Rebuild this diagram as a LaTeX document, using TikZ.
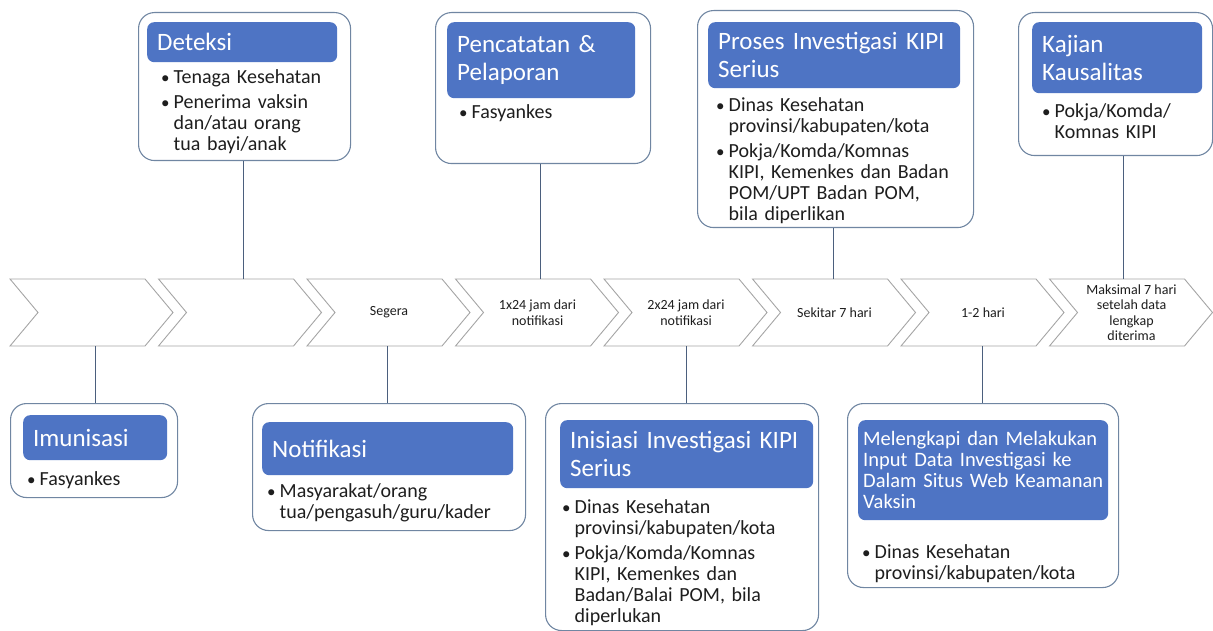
\documentclass[tikz,border=0pt]{standalone}
\usepackage{fontspec}
\setmainfont{Carlito}
\definecolor{hdrblue}{RGB}{78,116,196}
\definecolor{boxline}{RGB}{112,134,162}
\definecolor{connline}{RGB}{75,95,125}
\definecolor{chevline}{RGB}{165,165,165}
\definecolor{bodytext}{RGB}{30,30,30}

% bullet paragraph with hanging indent
\newcommand{\bitem}[1]{\par\noindent\hangindent=12.5pt\hangafter=1\strut\makebox[12.5pt][l]{\scalebox{0.85}{\textbullet}}#1\par}
\newcommand{\bgap}{\vspace{4.5pt}}
% one chevron of the timeline, #1 = left x
\newcommand{\chevshape}[1]{\path[chevbox] (#1,279) -- ++(135,0) -- ++(28,33.5) -- ++(-28,33.5) -- ++(-135,0) -- ++(28,-33.5) -- cycle;}

\begin{document}
\begin{tikzpicture}[x=1pt,y=-1pt,
  obox/.style={draw=boxline,line width=1.1pt,rounded corners=16pt,fill=white,anchor=north west,inner sep=0pt},
  hdr/.style={fill=hdrblue,rounded corners=7pt,text=white,align=left,anchor=north west,inner xsep=10pt,inner ysep=2pt,font=\fontsize{25}{28}\selectfont},
  body/.style={anchor=north west,inner sep=0pt,text=bodytext,font=\fontsize{20}{21}\selectfont},
  chevbox/.style={draw=chevline,line width=0.9pt,fill=white,line join=miter},
  chevtext/.style={align=center,text=bodytext,font=\fontsize{14}{15.5}\selectfont,inner sep=0pt},
  conn/.style={draw=connline,line width=0.9pt}
]
\useasboundingbox (0,0) rectangle (1213,631);

% timeline chevrons
\chevshape{10}
\chevshape{158.5}
\chevshape{307}
\chevshape{455.5}
\chevshape{604}
\chevshape{752.5}
\chevshape{901}
\chevshape{1049.5}

\node[chevtext] (t3) at (389,312.5) {Segera};
\node[chevtext] (t4) at (537.5,312.5) {1x24 jam dari\\notifikasi};
\node[chevtext] (t5) at (686,312.5) {2x24 jam dari\\notifikasi};
\node[chevtext] (t6) at (834.5,312.5) {Sekitar 7 hari};
\node[chevtext] (t7) at (983,312.5) {1-2 hari};
\node[chevtext] (t8) at (1131.5,312.5) {Maksimal 7 hari\\setelah data\\lengkap\\diterima};

% attachment points on the chevrons
\coordinate (cdet) at (243,279);
\coordinate (cpen) at (540,279);
\coordinate (cpro) at (833,279);
\coordinate (ckaj) at (1123,279);
\coordinate (cimu) at (95,346);
\coordinate (cnot) at (387,346);
\coordinate (cini) at (686,346);
\coordinate (cmel) at (982,346);

% upper boxes
\node[obox,minimum width=212,minimum height=148] (bdet) at (138,12) {};
\node[hdr,minimum width=190,minimum height=40,text width=170] (hdet) at (147,22) {Deteksi};
\node[body,text width=185] (xdet) at (161,62) {\bitem{Tenaga Kesehatan}\bgap\bitem{Penerima vaksin\newline dan/atau orang\newline tua bayi/anak}};

\node[obox,minimum width=215,minimum height=151] (bpen) at (435,12) {};
\node[hdr,minimum width=188,minimum height=76,text width=168] (hpen) at (447,22) {Pencatatan \&\\Pelaporan};
\node[body,text width=180] (xpen) at (459,97) {\bitem{Fasyankes}};

\node[obox,minimum width=276,minimum height=217] (bpro) at (697,10) {};
\node[hdr,minimum width=252,minimum height=66,text width=232] (hpro) at (708,22) {Proses Investigasi KIPI\\Serius};
\node[body,text width=255] (xpro) at (716,90) {\bitem{Dinas Kesehatan\newline provinsi/kabupaten/kota}\bgap\bitem{Pokja/Komda/Komnas\newline KIPI, Kemenkes dan Badan\newline POM/UPT Badan POM,\newline bila diperlikan}};

\node[obox,minimum width=194,minimum height=143] (bkaj) at (1018,12) {};
\node[hdr,minimum width=170,minimum height=71,text width=150] (hkaj) at (1032,22) {Kajian\\Kausalitas};
\node[body,text width=160] (xkaj) at (1042,96) {\bitem{Pokja/Komda/\newline Komnas KIPI}};

% lower boxes
\node[obox,minimum width=167,minimum height=94] (bimu) at (10,403) {};
\node[hdr,minimum width=144,minimum height=45,text width=124] (himu) at (23,415) {Imunisasi};
\node[body,text width=140] (ximu) at (27,464) {\bitem{Fasyankes}};

\node[obox,minimum width=273,minimum height=127] (bnot) at (252,403) {};
\node[hdr,minimum width=251,minimum height=53,text width=231] (hnot) at (262,422) {Notifikasi};
\node[body,text width=255] (xnot) at (267,476) {\bitem{Masyarakat/orang\newline tua/pengasuh/guru/kader}};

\node[obox,minimum width=273,minimum height=227] (bini) at (545,403) {};
\node[hdr,minimum width=253,minimum height=68,text width=233] (hini) at (560,420) {Inisiasi Investigasi KIPI\\Serius};
\node[body,text width=250] (xini) at (562,492) {\bitem{Dinas Kesehatan\newline provinsi/kabupaten/kota}\bgap\bitem{Pokja/Komda/Komnas\newline KIPI, Kemenkes dan\newline Badan/Balai POM, bila\newline diperlukan}};

\node[obox,minimum width=271,minimum height=184] (bmel) at (847,403) {};
\node[hdr,minimum width=250,minimum height=100,text width=240,inner xsep=5pt,font=\fontsize{20.5}{21}\selectfont] (hmel) at (858,420) {Melengkapi dan Melakukan\\Input Data Investigasi ke\\Dalam Situs Web Keamanan\\Vaksin};
\node[body,text width=250] (xmel) at (862,537) {\bitem{Dinas Kesehatan\newline provinsi/kabupaten/kota}};

% connectors between boxes and timeline
\draw[conn] (cdet) -- (cdet |- bdet.south);
\draw[conn] (cpen) -- (cpen |- bpen.south);
\draw[conn] (cpro) -- (cpro |- bpro.south);
\draw[conn] (ckaj) -- (ckaj |- bkaj.south);
\draw[conn] (cimu) -- (cimu |- bimu.north);
\draw[conn] (cnot) -- (cnot |- bnot.north);
\draw[conn] (cini) -- (cini |- bini.north);
\draw[conn] (cmel) -- (cmel |- bmel.north);
\end{tikzpicture}
\end{document}
